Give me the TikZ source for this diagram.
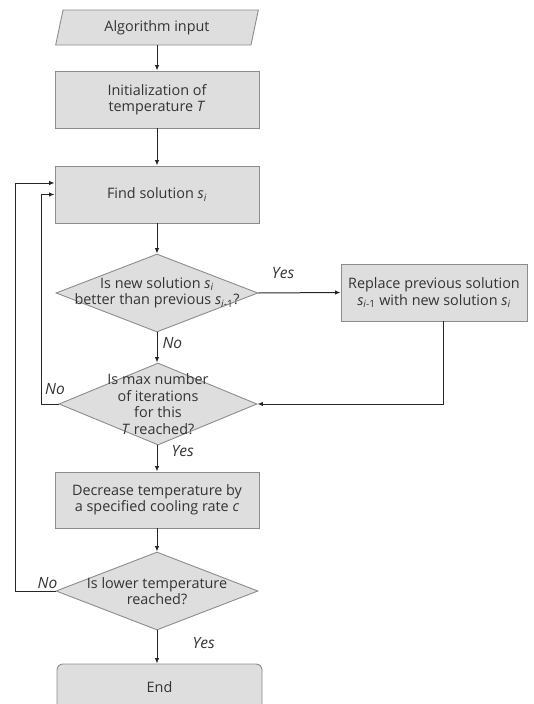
\documentclass[tikz,border=0pt]{standalone}
\usepackage{fontspec}
\setmainfont{Open Sans}
\usetikzlibrary{shapes.geometric,arrows.meta}
\newcommand\solI{\textit{s}\textsubscript{\textit{i}}}
\newcommand\solP{\textit{s}\textsubscript{\textit{i}-1}}
\begin{document}
\begin{tikzpicture}[x=1pt,y=-1pt,
  every node/.style={font=\fontsize{14.4}{16.5}\selectfont, text=black!80},
  proc/.style={draw=black!45, fill=black!13, line width=0.9pt, minimum width=204pt, minimum height=57pt, align=center, inner sep=0pt},
  dec/.style={diamond, draw=black!45, fill=black!13, line width=0.9pt, minimum width=202pt, minimum height=78pt, inner sep=0pt},
  dtext/.style={align=center, inner sep=0pt},
  lbl/.style={font=\fontsize{15.5}{17}\selectfont\itshape, inner sep=1pt},
  conn/.style={line width=1pt, draw=black!85, -{Latex[length=5.5pt,width=4.5pt]}}
]
\useasboundingbox (0,0) rectangle (533,704);
\coordinate (loopA) at (41,0);
\coordinate (loopB) at (15,0);

\node[trapezium, trapezium left angle=74, trapezium right angle=106, trapezium stretches=true,
      draw=black!45, fill=black!13, line width=0.9pt, minimum width=203pt, minimum height=35pt, inner sep=0pt] (inp) at (157,27.5) {Algorithm input};
\node[proc] (init) at (157,99.5) {Initialization of\\temperature \textit{T}};
\node[proc] (find) at (157,194.5) {Find solution \solI};
\node[dec] (d1) at (157,293) {};
\node[dtext] (d1t) at (d1) {Is new solution \solI\\better than previous \solP?};
\node[proc, minimum width=186pt] (rep) at (434,292.5) {Replace previous solution\\\solP{} with new solution \solI};
\node[dec, minimum width=198pt, minimum height=82pt] (d2) at (158,404) {};
\node[dtext] (d2t) at (d2) {Is max number\\of iterations\\for this\\\textit{T} reached?};
\node[proc, minimum height=56pt] (cool) at (157,500) {Decrease temperature by\\a specified cooling rate \textit{c}};
\node[dec] (d3) at (157,591) {};
\node[dtext] (d3t) at (d3) {Is lower temperature\\reached?};
\node[proc, rounded corners=6pt, minimum width=205pt, minimum height=46pt] (end) at (159.5,687) {End};

\draw[conn] (inp.south) -- (inp.south |- init.north);
\draw[conn] (init) -- (find);
\draw[conn] (find) -- (d1);
\draw[conn] (d1.east) -- node[lbl, above=13pt, pos=0.3] {Yes} (rep.west);
\draw[conn] (d1.south) -- node[lbl, right=4pt, pos=0.35] {No} (d1.south |- d2.north);
\draw[conn] ([xshift=9pt]rep.south) |- (d2.east);
\draw[conn] (d2.west) -- node[lbl, above=8pt, pos=0.2] {No} (d2.west -| loopA) |- (find.west);
\draw[conn] (d1.south |- d2.south) -- node[lbl, right=13pt, pos=0.2] {Yes} (d1.south |- cool.north);
\draw[conn] (cool) -- (d3);
\draw[conn] (d3.west) -- node[lbl, above=1pt, pos=0.2] {No} (d3.west -| loopB) |- ([yshift=11.5pt]find.west);
\draw[conn] (d3.south) -- node[lbl, right=34pt, pos=0.38] {Yes} (d3.south |- end.north);
\end{tikzpicture}
\end{document}
